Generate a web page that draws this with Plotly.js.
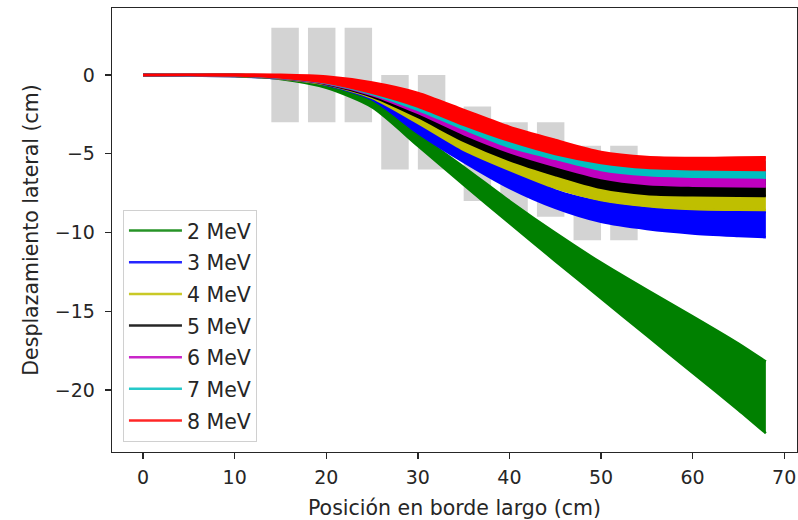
<!DOCTYPE html>
<html>
<head>
<meta charset="utf-8">
<script src="https://cdn.plot.ly/plotly-3.0.1.min.js"></script>
<style>html,body{margin:0;padding:0;background:#fff;}#chart{width:798px;height:520px;}</style>
</head>
<body>
<div id="chart"></div>
<script>
// Position along the long edge (cm)
const xPos = [0, 5, 10, 15, 20, 25, 30, 35, 40, 45, 50, 55, 60, 65, 68];

// Band limits (upper / lower) of lateral displacement (cm) for each energy
const g2Up  = [0, 0, -0.01, -0.08, -0.34, -1.5, -3.75, -5.84, -8.0, -10.03, -11.92, -13.65, -15.32, -17.05, -18.2];
const g2Lo  = [0, -0.02, -0.06, -0.26, -0.82, -2.05, -4.5, -6.98, -9.4, -11.81, -14.18, -16.55, -18.91, -21.27, -22.75];
const b3Up  = [0, 0, -0.01, -0.13, -0.44, -1.21, -2.73, -4.25, -5.71, -7.33, -8.06, -8.44, -8.63, -8.69, -8.7];
const b3Lo  = [0, -0.04, -0.08, -0.23, -0.63, -1.56, -3.68, -5.52, -7.17, -8.44, -9.33, -9.78, -10.06, -10.22, -10.3];
const y4Up  = [0, -0.01, -0.01, -0.1, -0.35, -1.0, -1.9, -3.3, -4.5, -5.5, -6.4, -6.8, -6.95, -7.0, -7.0];
const y4Lo  = [0, -0.04, -0.06, -0.22, -0.6, -1.46, -3.05, -4.76, -6.03, -7.17, -7.94, -8.32, -8.51, -8.56, -8.57];
const k5Up  = [0, -0.01, -0.01, -0.08, -0.3, -0.9, -1.7, -2.9, -4.0, -4.95, -5.75, -6.15, -6.3, -6.3, -6.3];
const k5Lo  = [0, -0.03, -0.05, -0.2, -0.57, -1.37, -2.67, -4.19, -5.4, -6.35, -7.17, -7.56, -7.64, -7.67, -7.68];
const m6Up  = [0, -0.01, 0, -0.07, -0.25, -0.8, -1.55, -2.7, -3.8, -4.7, -5.4, -5.8, -5.9, -5.9, -5.9];
const m6Lo  = [0, -0.03, -0.04, -0.19, -0.54, -1.27, -2.41, -3.75, -4.89, -5.78, -6.54, -6.92, -7.03, -7.07, -7.09];
const c7Up  = [0, 0, 0.01, -0.05, -0.2, -0.7, -1.4, -2.5, -3.6, -4.45, -5.15, -5.5, -5.55, -5.55, -5.55];
const c7Lo  = [0, -0.02, -0.04, -0.18, -0.51, -1.21, -2.22, -3.43, -4.57, -5.33, -6.03, -6.35, -6.46, -6.5, -6.52];
const r8Up  = [0, 0.01, 0.03, 0.01, -0.1, -0.48, -1.14, -2.22, -3.3, -4.13, -4.89, -5.21, -5.27, -5.24, -5.23];
const r8Lo  = [0, -0.01, -0.03, -0.16, -0.48, -1.14, -2.01, -3.17, -4.19, -5.02, -5.59, -5.9, -5.99, -6.02, -6.03];

const energies = ['2 MeV', '3 MeV', '4 MeV', '5 MeV', '6 MeV', '7 MeV', '8 MeV'];
const colors = ['#008000', '#0000ff', '#bfbf00', '#000000', '#bf00bf', '#00bfbf', '#ff0000'];
const uppers = [g2Up, b3Up, y4Up, k5Up, m6Up, c7Up, r8Up];
const lowers = [g2Lo, b3Lo, y4Lo, k5Lo, m6Lo, c7Lo, r8Lo];

// Grey blocks (magnet pieces): x start, x end, y top, y bottom (cm)
const blkX0 = [14, 18, 22, 26, 30, 35, 39, 43, 47, 51];
const blkX1 = [17, 21, 25, 29, 33, 38, 42, 46, 50, 54];
const blkTop = [3, 3, 3, 0, 0, -2, -3, -3, -4.5, -4.5];
const blkBot = [-3, -3, -3, -6, -6, -8, -9, -9, -10.5, -10.5];

const xTicks = [0, 10, 20, 30, 40, 50, 60, 70];
const yTicks = [-20, -15, -10, -5, 0];

const traces = [];
// legend entries (line samples)
energies.forEach((name, i) => {
  traces.push({
    x: [null], y: [null], type: 'scatter', mode: 'lines', name: name,
    line: {color: colors[i], width: 2.5}, opacity: 0.85,
    legendgroup: 'g' + i, showlegend: true, hoverinfo: 'skip'
  });
});
// bands: lower edge, then upper edge filled down to it
energies.forEach((name, i) => {
  const ln = {color: colors[i], width: 2.5, shape: 'spline', smoothing: 0.7};
  traces.push({
    x: xPos, y: lowers[i], type: 'scatter', mode: 'lines',
    line: ln, showlegend: false, hoverinfo: 'skip'
  });
  traces.push({
    x: xPos, y: uppers[i], type: 'scatter', mode: 'lines', fill: 'tonexty',
    fillcolor: colors[i], line: ln, showlegend: false, hoverinfo: 'skip'
  });
});

const shapes = blkX0.map((x0, i) => ({
  type: 'rect', xref: 'x', yref: 'y', x0: x0, x1: blkX1[i], y0: blkBot[i], y1: blkTop[i],
  fillcolor: '#d3d3d3', line: {width: 0}, layer: 'below'
}));

const fontFam = 'DejaVu Sans, sans-serif';
const layout = {
  width: 798, height: 520,
  margin: {l: 112, r: 1, t: 8, b: 68},
  paper_bgcolor: '#ffffff', plot_bgcolor: '#ffffff',
  font: {family: fontFam, size: 19, color: '#262626'},
  showlegend: true,
  legend: {
    x: 0.016, y: 0.023, xanchor: 'left', yanchor: 'bottom',
    bgcolor: 'rgba(255,255,255,0.8)', bordercolor: '#d0d0d0', borderwidth: 1,
    font: {family: fontFam, size: 20.5, color: '#262626'},
    traceorder: 'grouped', tracegroupgap: 2, itemwidth: 53
  },
  xaxis: {
    range: [-3.4, 71.4], tickvals: xTicks, ticktext: xTicks.map(String),
    showline: true, mirror: true, linecolor: '#262626', linewidth: 1.3,
    ticks: 'outside', ticklen: 6, tickwidth: 1.3, tickcolor: '#262626',
    showgrid: false, zeroline: false, ticklabelstandoff: 2,
    title: {text: 'Posición en borde largo (cm)', font: {size: 20.5}, standoff: 14}
  },
  yaxis: {
    range: [-23.94, 4.25], tickvals: yTicks, ticktext: yTicks.map(v => v < 0 ? '\u2212' + Math.abs(v) : String(v)),
    showline: true, mirror: true, linecolor: '#262626', linewidth: 1.3,
    ticks: 'outside', ticklen: 6, tickwidth: 1.3, tickcolor: '#262626',
    showgrid: false, zeroline: false, ticklabelstandoff: 6,
    title: {text: 'Desplazamiento lateral (cm)', font: {size: 20.5}, standoff: 10}
  },
  shapes: shapes
};

Plotly.newPlot('chart', traces, layout, {staticPlot: true, displayModeBar: false});
</script>
</body>
</html>
